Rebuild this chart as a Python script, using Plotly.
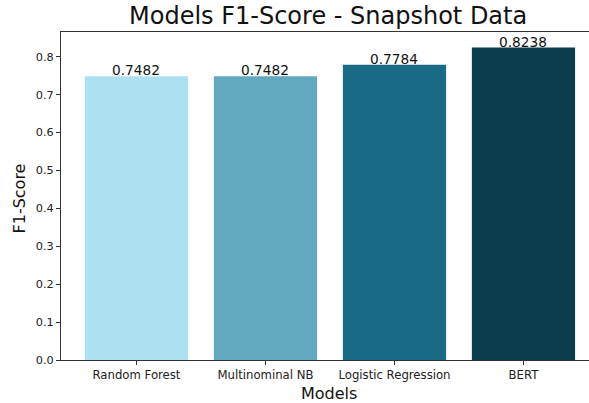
import plotly.graph_objects as go

models = ["Random Forest", "Multinominal NB", "Logistic Regression", "BERT"]
f1_scores = [0.7482, 0.7482, 0.7784, 0.8238]
bar_colors = ["#ADE1F1", "#62A8BF", "#1A6C86", "#0B3D4D"]
y_ticks = [0.0, 0.1, 0.2, 0.3, 0.4, 0.5, 0.6, 0.7, 0.8]

FONT = "DejaVu Sans"
W, H = 589, 403
L, R, T, B = 61, 0, 32, 43

fig = go.Figure()
fig.add_trace(go.Bar(
    x=models, y=f1_scores, width=0.8,
    marker=dict(color=bar_colors, line=dict(width=0)),
    hoverinfo="skip",
))

for m, v in zip(models, f1_scores):
    fig.add_annotation(
        x=m, y=v, xref="x", yref="y", text=f"{v:.4f}", showarrow=False,
        yanchor="bottom", yshift=-4,
        font=dict(family=FONT, size=13.7, color="#111111"),
    )

pw = W - L - R
ph = H - T - B
# title
fig.add_annotation(
    x=(328 - L) / pw, y=1, xref="paper", yref="paper", text="Models F1-Score - Snapshot Data",
    showarrow=False, yanchor="bottom", yshift=0,
    font=dict(family=FONT, size=24, color="#111111"),
)
# x label
fig.add_annotation(
    x=(329 - L) / pw, y=0, xref="paper", yref="paper", text="Models",
    showarrow=False, yanchor="top", yshift=-22,
    font=dict(family=FONT, size=16, color="#111111"),
)
# y label
fig.add_annotation(
    x=0, y=(360 - 199) / ph, xref="paper", yref="paper", text="F1-Score",
    showarrow=False, xanchor="right", xshift=-31, textangle=-90,
    font=dict(family=FONT, size=16, color="#111111"),
)

fig.update_layout(
    width=W, height=H,
    margin=dict(l=L, r=R, t=T, b=B, pad=0),
    plot_bgcolor="white", paper_bgcolor="white",
    showlegend=False, bargap=0.2,
    font=dict(family=FONT, color="#333333"),
)
fig.update_xaxes(
    range=[-0.585, -0.585 + pw / 129.0],
    showline=True, linecolor="#333333", linewidth=1, mirror=True,
    ticks="outside", ticklen=4, tickcolor="#333333",
    showgrid=False, zeroline=False,
    tickfont=dict(family=FONT, size=11.7, color="#222222"),
)
fig.update_yaxes(
    range=[0, 0.8238 * 1.05],
    tickvals=y_ticks, ticktext=[f"{t:.1f}" for t in y_ticks],
    showline=True, linecolor="#333333", linewidth=1,
    ticks="outside", ticklen=4, tickcolor="#333333",
    showgrid=False, zeroline=False,
    tickfont=dict(family=FONT, size=11.3, color="#222222"),
)

fig.write_html("out.html", config={"displayModeBar": False},
               post_script="document.body.style.margin='0px';")
